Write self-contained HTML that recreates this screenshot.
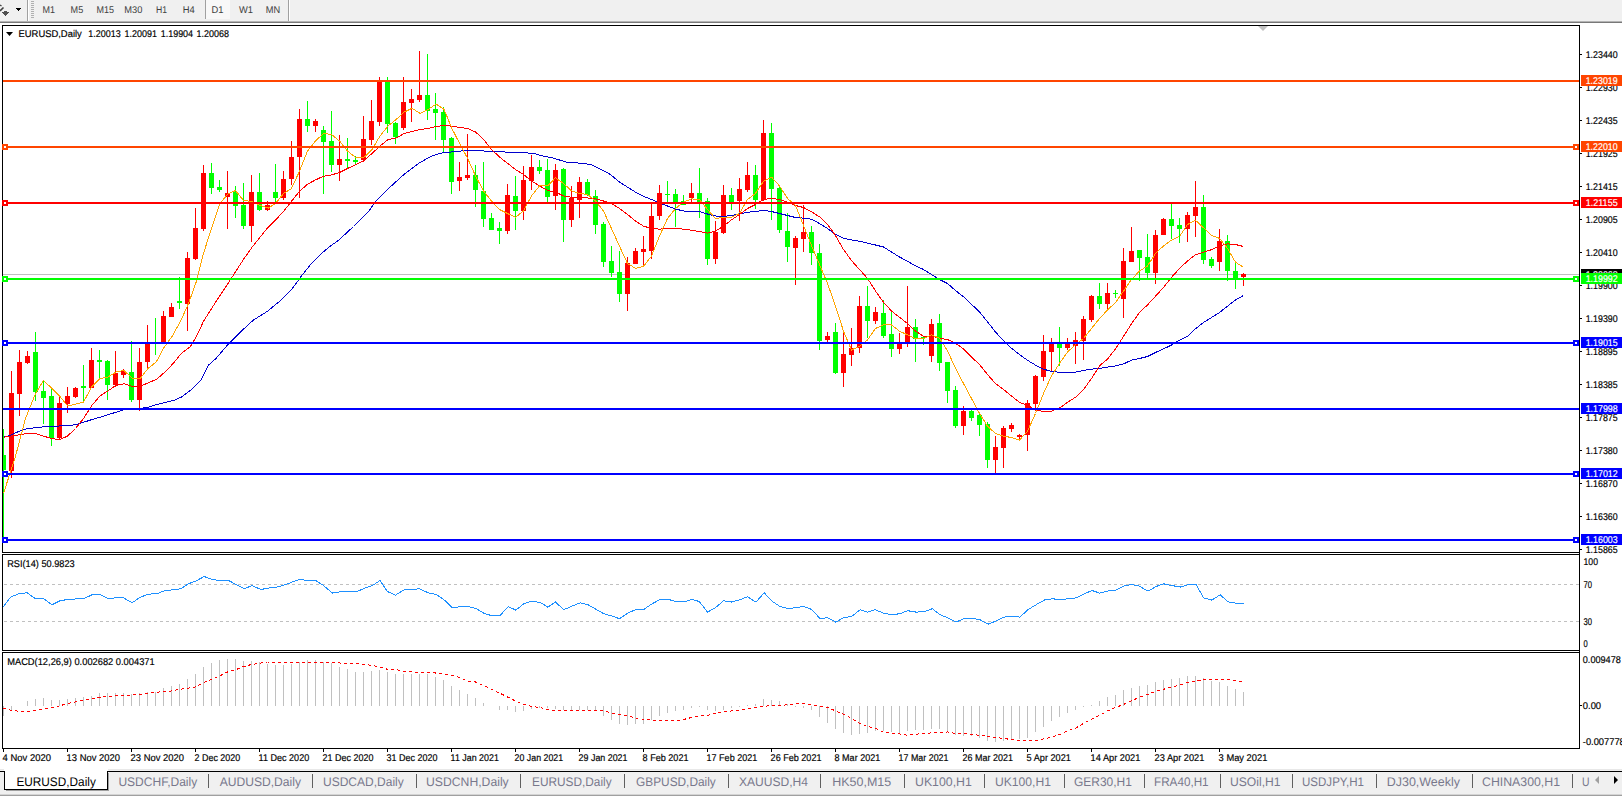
<!DOCTYPE html><html><head><meta charset="utf-8"><title>EURUSD,Daily</title>
<style>html,body{margin:0;padding:0;background:#fff;overflow:hidden}body{width:1622px;height:796px}svg{display:block;position:absolute;left:0;top:0}text{font-family:"Liberation Sans",sans-serif;text-rendering:geometricPrecision}</style></head><body>
<svg width="1622" height="796" viewBox="0 0 1622 796">
<rect x="0" y="0" width="1622" height="796" fill="#fff"/>
<g shape-rendering="crispEdges">
<rect x="0" y="0" width="1622" height="21" fill="#f0f0f0"/>
<rect x="0" y="21" width="1622" height="1" fill="#b4b4b4"/>
<rect x="0" y="22" width="1622" height="1" fill="#787878"/>
<rect x="27" y="0" width="1" height="21" fill="#a0a0a0"/><rect x="28" y="0" width="1" height="21" fill="#fff"/>
<rect x="31" y="1" width="3" height="1" fill="#b0b0b0"/>
<rect x="31" y="3" width="3" height="1" fill="#b0b0b0"/>
<rect x="31" y="5" width="3" height="1" fill="#b0b0b0"/>
<rect x="31" y="7" width="3" height="1" fill="#b0b0b0"/>
<rect x="31" y="9" width="3" height="1" fill="#b0b0b0"/>
<rect x="31" y="11" width="3" height="1" fill="#b0b0b0"/>
<rect x="31" y="13" width="3" height="1" fill="#b0b0b0"/>
<rect x="31" y="15" width="3" height="1" fill="#b0b0b0"/>
<rect x="31" y="17" width="3" height="1" fill="#b0b0b0"/>
<rect x="205" y="0" width="1" height="19" fill="#a0a0a0"/><rect x="206" y="0" width="24" height="19" fill="#f8f8f8"/>
<rect x="288" y="0" width="1" height="21" fill="#a0a0a0"/><rect x="289" y="0" width="1" height="21" fill="#fff"/>
<rect x="16" y="8" width="5" height="1" fill="#000"/><rect x="17" y="9" width="3" height="1" fill="#000"/><rect x="18" y="10" width="1" height="1" fill="#000"/>
<rect x="4" y="11" width="3" height="1" fill="#505050"/><rect x="2" y="12" width="7" height="1" fill="#505050"/><rect x="3" y="13" width="5" height="1" fill="#505050"/><rect x="4" y="14" width="3" height="1" fill="#505050"/><rect x="5" y="15" width="1" height="1" fill="#505050"/>
</g>
<path d="M0 11 L3.5 7.5" stroke="#404040" stroke-width="1.6" fill="none"/><path d="M0 5 L1.5 6" stroke="#404040" stroke-width="1.4" fill="none"/>
<g shape-rendering="crispEdges">
<rect x="2.5" y="25.5" width="1577" height="527" fill="#fff" stroke="#000" stroke-width="1"/>
<rect x="2.5" y="554.5" width="1577" height="96" fill="#fff" stroke="#000" stroke-width="1"/>
<rect x="2.5" y="652.5" width="1577" height="96" fill="#fff" stroke="#000" stroke-width="1"/>
<path d="M1258 26 L1268 26 L1263 31 Z" fill="#c0c0c0" shape-rendering="auto"/>
<rect x="3" y="274" width="1576" height="1" fill="#c0c0c0"/>
<rect x="3" y="429" width="1" height="109" fill="#00ff00"/>
<rect x="3" y="455" width="3" height="15" fill="#00ff00"/>
<rect x="11" y="371" width="1" height="107" fill="#ff0000"/>
<rect x="9" y="393" width="5" height="78" fill="#ff0000"/>
<rect x="19" y="350" width="1" height="66" fill="#ff0000"/>
<rect x="17" y="362" width="5" height="32" fill="#ff0000"/>
<rect x="27" y="351" width="1" height="13" fill="#ff0000"/>
<rect x="25" y="356" width="5" height="7" fill="#ff0000"/>
<rect x="35" y="332" width="1" height="69" fill="#00ff00"/>
<rect x="33" y="352" width="5" height="40" fill="#00ff00"/>
<rect x="43" y="380" width="1" height="44" fill="#00ff00"/>
<rect x="41" y="391" width="5" height="7" fill="#00ff00"/>
<rect x="51" y="388" width="1" height="58" fill="#00ff00"/>
<rect x="49" y="396" width="5" height="42" fill="#00ff00"/>
<rect x="59" y="395" width="1" height="44" fill="#ff0000"/>
<rect x="57" y="403" width="5" height="35" fill="#ff0000"/>
<rect x="67" y="387" width="1" height="26" fill="#ff0000"/>
<rect x="65" y="396" width="5" height="8" fill="#ff0000"/>
<rect x="75" y="387" width="1" height="11" fill="#ff0000"/>
<rect x="73" y="388" width="5" height="9" fill="#ff0000"/>
<rect x="83" y="365" width="1" height="37" fill="#00ff00"/>
<rect x="81" y="386" width="5" height="2" fill="#00ff00"/>
<rect x="91" y="348" width="1" height="40" fill="#ff0000"/>
<rect x="89" y="360" width="5" height="28" fill="#ff0000"/>
<rect x="99" y="350" width="1" height="28" fill="#00ff00"/>
<rect x="97" y="360" width="5" height="2" fill="#00ff00"/>
<rect x="107" y="360" width="1" height="40" fill="#00ff00"/>
<rect x="105" y="361" width="5" height="24" fill="#00ff00"/>
<rect x="115" y="351" width="1" height="36" fill="#ff0000"/>
<rect x="113" y="373" width="5" height="12" fill="#ff0000"/>
<rect x="123" y="369" width="1" height="9" fill="#ff0000"/>
<rect x="121" y="371" width="5" height="4" fill="#ff0000"/>
<rect x="131" y="341" width="1" height="61" fill="#00ff00"/>
<rect x="129" y="372" width="5" height="28" fill="#00ff00"/>
<rect x="139" y="348" width="1" height="63" fill="#ff0000"/>
<rect x="137" y="362" width="5" height="38" fill="#ff0000"/>
<rect x="147" y="325" width="1" height="43" fill="#ff0000"/>
<rect x="145" y="344" width="5" height="18" fill="#ff0000"/>
<rect x="155" y="318" width="1" height="37" fill="#00ff00"/>
<rect x="153" y="342" width="5" height="1" fill="#00ff00"/>
<rect x="163" y="311" width="1" height="31" fill="#ff0000"/>
<rect x="161" y="316" width="5" height="26" fill="#ff0000"/>
<rect x="171" y="303" width="1" height="14" fill="#ff0000"/>
<rect x="169" y="307" width="5" height="10" fill="#ff0000"/>
<rect x="179" y="277" width="1" height="32" fill="#00ff00"/>
<rect x="177" y="301" width="5" height="2" fill="#00ff00"/>
<rect x="187" y="252" width="1" height="79" fill="#ff0000"/>
<rect x="185" y="258" width="5" height="46" fill="#ff0000"/>
<rect x="195" y="208" width="1" height="52" fill="#ff0000"/>
<rect x="193" y="228" width="5" height="31" fill="#ff0000"/>
<rect x="203" y="165" width="1" height="66" fill="#ff0000"/>
<rect x="201" y="173" width="5" height="56" fill="#ff0000"/>
<rect x="211" y="163" width="1" height="31" fill="#00ff00"/>
<rect x="209" y="173" width="5" height="15" fill="#00ff00"/>
<rect x="219" y="180" width="1" height="12" fill="#00ff00"/>
<rect x="217" y="187" width="5" height="3" fill="#00ff00"/>
<rect x="227" y="171" width="1" height="58" fill="#ff0000"/>
<rect x="225" y="193" width="5" height="4" fill="#ff0000"/>
<rect x="235" y="186" width="1" height="32" fill="#00ff00"/>
<rect x="233" y="192" width="5" height="14" fill="#00ff00"/>
<rect x="243" y="183" width="1" height="46" fill="#00ff00"/>
<rect x="241" y="205" width="5" height="21" fill="#00ff00"/>
<rect x="251" y="175" width="1" height="67" fill="#ff0000"/>
<rect x="249" y="192" width="5" height="34" fill="#ff0000"/>
<rect x="259" y="173" width="1" height="38" fill="#00ff00"/>
<rect x="257" y="192" width="5" height="18" fill="#00ff00"/>
<rect x="267" y="201" width="1" height="10" fill="#ff0000"/>
<rect x="265" y="205" width="5" height="5" fill="#ff0000"/>
<rect x="275" y="164" width="1" height="40" fill="#00ff00"/>
<rect x="273" y="192" width="5" height="6" fill="#00ff00"/>
<rect x="283" y="171" width="1" height="29" fill="#ff0000"/>
<rect x="281" y="179" width="5" height="19" fill="#ff0000"/>
<rect x="291" y="141" width="1" height="44" fill="#ff0000"/>
<rect x="289" y="157" width="5" height="22" fill="#ff0000"/>
<rect x="299" y="109" width="1" height="89" fill="#ff0000"/>
<rect x="297" y="119" width="5" height="38" fill="#ff0000"/>
<rect x="307" y="101" width="1" height="31" fill="#00ff00"/>
<rect x="305" y="119" width="5" height="7" fill="#00ff00"/>
<rect x="315" y="119" width="1" height="13" fill="#ff0000"/>
<rect x="313" y="121" width="5" height="5" fill="#ff0000"/>
<rect x="323" y="126" width="1" height="68" fill="#00ff00"/>
<rect x="321" y="130" width="5" height="12" fill="#00ff00"/>
<rect x="331" y="111" width="1" height="61" fill="#00ff00"/>
<rect x="329" y="141" width="5" height="24" fill="#00ff00"/>
<rect x="339" y="135" width="1" height="46" fill="#ff0000"/>
<rect x="337" y="159" width="5" height="6" fill="#ff0000"/>
<rect x="347" y="138" width="1" height="30" fill="#00ff00"/>
<rect x="345" y="159" width="5" height="2" fill="#00ff00"/>
<rect x="355" y="156" width="1" height="9" fill="#00ff00"/>
<rect x="353" y="160" width="5" height="2" fill="#00ff00"/>
<rect x="363" y="116" width="1" height="46" fill="#ff0000"/>
<rect x="361" y="139" width="5" height="21" fill="#ff0000"/>
<rect x="371" y="100" width="1" height="45" fill="#ff0000"/>
<rect x="369" y="121" width="5" height="19" fill="#ff0000"/>
<rect x="379" y="77" width="1" height="49" fill="#ff0000"/>
<rect x="377" y="82" width="5" height="40" fill="#ff0000"/>
<rect x="387" y="77" width="1" height="56" fill="#00ff00"/>
<rect x="385" y="82" width="5" height="42" fill="#00ff00"/>
<rect x="395" y="122" width="1" height="22" fill="#00ff00"/>
<rect x="393" y="123" width="5" height="14" fill="#00ff00"/>
<rect x="403" y="77" width="1" height="53" fill="#ff0000"/>
<rect x="401" y="102" width="5" height="26" fill="#ff0000"/>
<rect x="411" y="89" width="1" height="33" fill="#ff0000"/>
<rect x="409" y="99" width="5" height="4" fill="#ff0000"/>
<rect x="419" y="51" width="1" height="51" fill="#ff0000"/>
<rect x="417" y="95" width="5" height="5" fill="#ff0000"/>
<rect x="427" y="54" width="1" height="66" fill="#00ff00"/>
<rect x="425" y="95" width="5" height="16" fill="#00ff00"/>
<rect x="435" y="93" width="1" height="47" fill="#00ff00"/>
<rect x="433" y="109" width="5" height="4" fill="#00ff00"/>
<rect x="443" y="107" width="1" height="46" fill="#00ff00"/>
<rect x="441" y="112" width="5" height="28" fill="#00ff00"/>
<rect x="451" y="137" width="1" height="57" fill="#00ff00"/>
<rect x="449" y="138" width="5" height="44" fill="#00ff00"/>
<rect x="459" y="162" width="1" height="29" fill="#ff0000"/>
<rect x="457" y="177" width="5" height="4" fill="#ff0000"/>
<rect x="467" y="134" width="1" height="46" fill="#ff0000"/>
<rect x="465" y="175" width="5" height="3" fill="#ff0000"/>
<rect x="475" y="165" width="1" height="42" fill="#00ff00"/>
<rect x="473" y="175" width="5" height="15" fill="#00ff00"/>
<rect x="483" y="162" width="1" height="65" fill="#00ff00"/>
<rect x="481" y="191" width="5" height="28" fill="#00ff00"/>
<rect x="491" y="213" width="1" height="17" fill="#00ff00"/>
<rect x="489" y="218" width="5" height="12" fill="#00ff00"/>
<rect x="499" y="222" width="1" height="22" fill="#00ff00"/>
<rect x="497" y="228" width="5" height="3" fill="#00ff00"/>
<rect x="507" y="184" width="1" height="50" fill="#ff0000"/>
<rect x="505" y="195" width="5" height="36" fill="#ff0000"/>
<rect x="515" y="176" width="1" height="54" fill="#00ff00"/>
<rect x="513" y="196" width="5" height="15" fill="#00ff00"/>
<rect x="523" y="166" width="1" height="54" fill="#ff0000"/>
<rect x="521" y="180" width="5" height="31" fill="#ff0000"/>
<rect x="531" y="155" width="1" height="35" fill="#ff0000"/>
<rect x="529" y="167" width="5" height="14" fill="#ff0000"/>
<rect x="539" y="160" width="1" height="14" fill="#00ff00"/>
<rect x="537" y="167" width="5" height="4" fill="#00ff00"/>
<rect x="547" y="159" width="1" height="43" fill="#00ff00"/>
<rect x="545" y="170" width="5" height="27" fill="#00ff00"/>
<rect x="555" y="164" width="1" height="46" fill="#ff0000"/>
<rect x="553" y="170" width="5" height="26" fill="#ff0000"/>
<rect x="563" y="168" width="1" height="74" fill="#00ff00"/>
<rect x="561" y="169" width="5" height="51" fill="#00ff00"/>
<rect x="571" y="186" width="1" height="41" fill="#ff0000"/>
<rect x="569" y="198" width="5" height="22" fill="#ff0000"/>
<rect x="579" y="177" width="1" height="41" fill="#ff0000"/>
<rect x="577" y="182" width="5" height="18" fill="#ff0000"/>
<rect x="587" y="179" width="1" height="17" fill="#00ff00"/>
<rect x="585" y="182" width="5" height="13" fill="#00ff00"/>
<rect x="595" y="190" width="1" height="44" fill="#00ff00"/>
<rect x="593" y="196" width="5" height="29" fill="#00ff00"/>
<rect x="603" y="222" width="1" height="45" fill="#00ff00"/>
<rect x="601" y="224" width="5" height="38" fill="#00ff00"/>
<rect x="611" y="246" width="1" height="31" fill="#00ff00"/>
<rect x="609" y="261" width="5" height="12" fill="#00ff00"/>
<rect x="619" y="251" width="1" height="51" fill="#00ff00"/>
<rect x="617" y="272" width="5" height="22" fill="#00ff00"/>
<rect x="627" y="257" width="1" height="54" fill="#ff0000"/>
<rect x="625" y="263" width="5" height="31" fill="#ff0000"/>
<rect x="635" y="248" width="1" height="16" fill="#ff0000"/>
<rect x="633" y="251" width="5" height="13" fill="#ff0000"/>
<rect x="643" y="236" width="1" height="29" fill="#ff0000"/>
<rect x="641" y="249" width="5" height="3" fill="#ff0000"/>
<rect x="651" y="204" width="1" height="55" fill="#ff0000"/>
<rect x="649" y="216" width="5" height="35" fill="#ff0000"/>
<rect x="659" y="185" width="1" height="35" fill="#ff0000"/>
<rect x="657" y="193" width="5" height="23" fill="#ff0000"/>
<rect x="667" y="181" width="1" height="21" fill="#00ff00"/>
<rect x="665" y="194" width="5" height="1" fill="#00ff00"/>
<rect x="675" y="189" width="1" height="38" fill="#00ff00"/>
<rect x="673" y="194" width="5" height="9" fill="#00ff00"/>
<rect x="683" y="195" width="1" height="10" fill="#00ff00"/>
<rect x="681" y="201" width="5" height="4" fill="#00ff00"/>
<rect x="691" y="183" width="1" height="19" fill="#ff0000"/>
<rect x="689" y="193" width="5" height="5" fill="#ff0000"/>
<rect x="699" y="168" width="1" height="50" fill="#00ff00"/>
<rect x="697" y="193" width="5" height="9" fill="#00ff00"/>
<rect x="707" y="198" width="1" height="67" fill="#00ff00"/>
<rect x="705" y="201" width="5" height="58" fill="#00ff00"/>
<rect x="715" y="221" width="1" height="43" fill="#ff0000"/>
<rect x="713" y="232" width="5" height="27" fill="#ff0000"/>
<rect x="723" y="185" width="1" height="49" fill="#ff0000"/>
<rect x="721" y="195" width="5" height="38" fill="#ff0000"/>
<rect x="731" y="188" width="1" height="22" fill="#00ff00"/>
<rect x="729" y="195" width="5" height="8" fill="#00ff00"/>
<rect x="739" y="178" width="1" height="43" fill="#ff0000"/>
<rect x="737" y="189" width="5" height="12" fill="#ff0000"/>
<rect x="747" y="162" width="1" height="30" fill="#ff0000"/>
<rect x="745" y="175" width="5" height="15" fill="#ff0000"/>
<rect x="755" y="165" width="1" height="44" fill="#00ff00"/>
<rect x="753" y="175" width="5" height="25" fill="#00ff00"/>
<rect x="763" y="120" width="1" height="81" fill="#ff0000"/>
<rect x="761" y="133" width="5" height="67" fill="#ff0000"/>
<rect x="771" y="123" width="1" height="97" fill="#00ff00"/>
<rect x="769" y="133" width="5" height="56" fill="#00ff00"/>
<rect x="779" y="187" width="1" height="46" fill="#00ff00"/>
<rect x="777" y="188" width="5" height="42" fill="#00ff00"/>
<rect x="787" y="213" width="1" height="49" fill="#00ff00"/>
<rect x="785" y="231" width="5" height="16" fill="#00ff00"/>
<rect x="795" y="236" width="1" height="49" fill="#ff0000"/>
<rect x="793" y="238" width="5" height="10" fill="#ff0000"/>
<rect x="803" y="205" width="1" height="47" fill="#ff0000"/>
<rect x="801" y="232" width="5" height="7" fill="#ff0000"/>
<rect x="811" y="226" width="1" height="39" fill="#00ff00"/>
<rect x="809" y="232" width="5" height="21" fill="#00ff00"/>
<rect x="819" y="244" width="1" height="106" fill="#00ff00"/>
<rect x="817" y="253" width="5" height="88" fill="#00ff00"/>
<rect x="827" y="332" width="1" height="10" fill="#ff0000"/>
<rect x="825" y="336" width="5" height="4" fill="#ff0000"/>
<rect x="835" y="323" width="1" height="51" fill="#00ff00"/>
<rect x="833" y="332" width="5" height="41" fill="#00ff00"/>
<rect x="843" y="333" width="1" height="54" fill="#ff0000"/>
<rect x="841" y="354" width="5" height="19" fill="#ff0000"/>
<rect x="851" y="328" width="1" height="38" fill="#ff0000"/>
<rect x="849" y="348" width="5" height="7" fill="#ff0000"/>
<rect x="859" y="296" width="1" height="57" fill="#ff0000"/>
<rect x="857" y="306" width="5" height="42" fill="#ff0000"/>
<rect x="867" y="286" width="1" height="52" fill="#00ff00"/>
<rect x="865" y="306" width="5" height="15" fill="#00ff00"/>
<rect x="875" y="307" width="1" height="17" fill="#ff0000"/>
<rect x="873" y="312" width="5" height="9" fill="#ff0000"/>
<rect x="883" y="300" width="1" height="38" fill="#00ff00"/>
<rect x="881" y="313" width="5" height="23" fill="#00ff00"/>
<rect x="891" y="311" width="1" height="46" fill="#00ff00"/>
<rect x="889" y="334" width="5" height="15" fill="#00ff00"/>
<rect x="899" y="333" width="1" height="21" fill="#ff0000"/>
<rect x="897" y="343" width="5" height="6" fill="#ff0000"/>
<rect x="907" y="286" width="1" height="61" fill="#ff0000"/>
<rect x="905" y="327" width="5" height="16" fill="#ff0000"/>
<rect x="915" y="319" width="1" height="43" fill="#00ff00"/>
<rect x="913" y="327" width="5" height="12" fill="#00ff00"/>
<rect x="923" y="336" width="1" height="9" fill="#00ff00"/>
<rect x="921" y="337" width="5" height="1" fill="#00ff00"/>
<rect x="931" y="319" width="1" height="43" fill="#ff0000"/>
<rect x="929" y="324" width="5" height="32" fill="#ff0000"/>
<rect x="939" y="314" width="1" height="57" fill="#00ff00"/>
<rect x="937" y="323" width="5" height="40" fill="#00ff00"/>
<rect x="947" y="362" width="1" height="41" fill="#00ff00"/>
<rect x="945" y="362" width="5" height="29" fill="#00ff00"/>
<rect x="955" y="386" width="1" height="42" fill="#00ff00"/>
<rect x="953" y="390" width="5" height="36" fill="#00ff00"/>
<rect x="963" y="406" width="1" height="29" fill="#ff0000"/>
<rect x="961" y="411" width="5" height="15" fill="#ff0000"/>
<rect x="971" y="410" width="1" height="11" fill="#00ff00"/>
<rect x="969" y="411" width="5" height="7" fill="#00ff00"/>
<rect x="979" y="413" width="1" height="23" fill="#00ff00"/>
<rect x="977" y="415" width="5" height="10" fill="#00ff00"/>
<rect x="987" y="422" width="1" height="46" fill="#00ff00"/>
<rect x="985" y="424" width="5" height="36" fill="#00ff00"/>
<rect x="995" y="436" width="1" height="37" fill="#ff0000"/>
<rect x="993" y="447" width="5" height="13" fill="#ff0000"/>
<rect x="1003" y="426" width="1" height="42" fill="#ff0000"/>
<rect x="1001" y="428" width="5" height="20" fill="#ff0000"/>
<rect x="1011" y="423" width="1" height="9" fill="#ff0000"/>
<rect x="1009" y="425" width="5" height="4" fill="#ff0000"/>
<rect x="1019" y="434" width="1" height="6" fill="#ff0000"/>
<rect x="1017" y="435" width="5" height="2" fill="#ff0000"/>
<rect x="1027" y="400" width="1" height="51" fill="#ff0000"/>
<rect x="1025" y="403" width="5" height="32" fill="#ff0000"/>
<rect x="1035" y="375" width="1" height="36" fill="#ff0000"/>
<rect x="1033" y="376" width="5" height="28" fill="#ff0000"/>
<rect x="1043" y="335" width="1" height="46" fill="#ff0000"/>
<rect x="1041" y="351" width="5" height="26" fill="#ff0000"/>
<rect x="1051" y="338" width="1" height="33" fill="#ff0000"/>
<rect x="1049" y="343" width="5" height="9" fill="#ff0000"/>
<rect x="1059" y="327" width="1" height="39" fill="#00ff00"/>
<rect x="1057" y="344" width="5" height="4" fill="#00ff00"/>
<rect x="1067" y="338" width="1" height="12" fill="#ff0000"/>
<rect x="1065" y="343" width="5" height="5" fill="#ff0000"/>
<rect x="1075" y="332" width="1" height="32" fill="#ff0000"/>
<rect x="1073" y="340" width="5" height="6" fill="#ff0000"/>
<rect x="1083" y="316" width="1" height="44" fill="#ff0000"/>
<rect x="1081" y="319" width="5" height="22" fill="#ff0000"/>
<rect x="1091" y="295" width="1" height="27" fill="#ff0000"/>
<rect x="1089" y="296" width="5" height="24" fill="#ff0000"/>
<rect x="1099" y="283" width="1" height="26" fill="#00ff00"/>
<rect x="1097" y="296" width="5" height="8" fill="#00ff00"/>
<rect x="1107" y="283" width="1" height="27" fill="#ff0000"/>
<rect x="1105" y="293" width="5" height="11" fill="#ff0000"/>
<rect x="1115" y="290" width="1" height="8" fill="#00ff00"/>
<rect x="1113" y="293" width="5" height="1" fill="#00ff00"/>
<rect x="1123" y="248" width="1" height="70" fill="#ff0000"/>
<rect x="1121" y="261" width="5" height="38" fill="#ff0000"/>
<rect x="1131" y="227" width="1" height="35" fill="#ff0000"/>
<rect x="1129" y="251" width="5" height="11" fill="#ff0000"/>
<rect x="1139" y="250" width="1" height="31" fill="#00ff00"/>
<rect x="1137" y="250" width="5" height="8" fill="#00ff00"/>
<rect x="1147" y="234" width="1" height="44" fill="#00ff00"/>
<rect x="1145" y="257" width="5" height="16" fill="#00ff00"/>
<rect x="1155" y="230" width="1" height="54" fill="#ff0000"/>
<rect x="1153" y="235" width="5" height="38" fill="#ff0000"/>
<rect x="1163" y="218" width="1" height="17" fill="#ff0000"/>
<rect x="1161" y="219" width="5" height="16" fill="#ff0000"/>
<rect x="1171" y="204" width="1" height="35" fill="#00ff00"/>
<rect x="1169" y="219" width="5" height="7" fill="#00ff00"/>
<rect x="1179" y="218" width="1" height="25" fill="#00ff00"/>
<rect x="1177" y="225" width="5" height="4" fill="#00ff00"/>
<rect x="1187" y="212" width="1" height="30" fill="#ff0000"/>
<rect x="1185" y="215" width="5" height="14" fill="#ff0000"/>
<rect x="1195" y="181" width="1" height="56" fill="#ff0000"/>
<rect x="1193" y="207" width="5" height="9" fill="#ff0000"/>
<rect x="1203" y="195" width="1" height="69" fill="#00ff00"/>
<rect x="1201" y="207" width="5" height="53" fill="#00ff00"/>
<rect x="1211" y="257" width="1" height="11" fill="#00ff00"/>
<rect x="1209" y="259" width="5" height="7" fill="#00ff00"/>
<rect x="1219" y="229" width="1" height="42" fill="#ff0000"/>
<rect x="1217" y="241" width="5" height="21" fill="#ff0000"/>
<rect x="1227" y="235" width="1" height="46" fill="#00ff00"/>
<rect x="1225" y="241" width="5" height="30" fill="#00ff00"/>
<rect x="1235" y="263" width="1" height="26" fill="#00ff00"/>
<rect x="1233" y="271" width="5" height="8" fill="#00ff00"/>
<rect x="1243" y="273" width="1" height="13" fill="#ff0000"/>
<rect x="1241" y="274" width="5" height="3" fill="#ff0000"/>
</g>
<g shape-rendering="crispEdges">
<polyline points="3.5,437.3 11.5,434.8 19.5,431.1 27.5,428.5 35.5,427.8 43.5,426.8 51.5,426.5 59.5,426.0 67.5,425.5 75.5,424.8 83.5,422.3 91.5,419.7 100.0,417.2 108.0,414.7 116.1,412.2 124.1,409.7 132.2,408.5 140.2,408.5 148.2,407.2 156.3,404.7 163.5,402.9 173.5,400.5 181.5,397.1 191.5,389.5 200.5,380.8 208.1,365.5 215.9,358.5 228.5,343.9 241.1,331.4 253.5,320.0 267.5,311.3 281.3,299.9 291.3,289.9 301.4,276.1 311.4,263.5 321.5,253.5 330.5,245.9 338.3,240.5 353.5,226.5 368.5,211.4 376.0,201.3 388.5,188.5 403.5,174.9 418.5,163.5 431.3,156.1 441.4,153.1 451.5,152.0 465.5,150.5 490.5,151.2 513.5,152.5 533.5,153.2 541.0,155.5 553.5,158.2 566.1,162.0 581.2,163.3 591.3,164.5 601.3,169.5 610.5,174.5 619.5,182.1 627.5,187.1 635.5,192.1 643.5,196.4 651.5,199.5 659.5,202.9 667.5,206.0 675.5,209.0 683.5,211.0 691.5,211.5 699.5,211.7 707.5,214.0 715.5,216.0 723.5,216.5 731.5,215.5 739.5,214.0 747.5,212.2 755.5,211.5 763.5,210.5 771.5,211.5 779.5,213.5 787.5,215.5 795.5,217.5 803.5,218.1 811.5,219.3 819.5,223.5 827.5,228.5 835.5,234.4 843.5,238.2 851.5,239.9 859.5,241.2 867.5,243.2 875.5,245.0 883.5,247.0 891.5,252.0 899.5,257.0 907.5,261.3 915.5,265.8 923.5,269.5 931.5,274.5 939.5,279.5 947.5,283.5 955.5,290.5 963.5,296.8 971.5,304.3 979.5,311.9 987.5,321.9 995.5,332.0 1003.5,340.8 1011.5,348.3 1019.5,354.5 1027.5,360.3 1035.5,365.1 1043.5,369.1 1051.5,371.5 1059.5,372.2 1067.5,372.9 1075.5,372.2 1083.5,370.4 1091.5,369.1 1099.5,368.4 1107.5,367.1 1115.5,365.9 1123.5,363.9 1131.5,360.2 1139.5,358.5 1147.5,356.5 1155.5,352.5 1163.5,348.9 1171.5,345.1 1179.5,340.1 1187.5,336.4 1195.5,328.8 1203.5,322.5 1211.5,317.5 1219.5,312.5 1227.5,306.2 1235.5,299.9 1243.5,295.5" fill="none" stroke="#0000cd" stroke-width="1" />
<polyline points="3.5,437.3 11.5,436.1 19.5,434.8 27.5,433.5 35.5,433.5 43.5,436.1 51.5,438.5 59.5,439.8 67.5,436.1 75.5,428.5 83.5,418.5 91.5,405.9 100.0,395.9 108.0,390.9 116.1,385.3 124.1,383.8 132.2,386.3 140.2,386.3 148.2,382.8 156.3,379.5 163.5,373.3 173.5,363.2 181.5,353.2 190.5,346.5 196.5,336.5 203.5,321.3 211.5,308.7 219.5,296.2 228.0,283.5 236.0,271.0 244.1,258.5 252.1,247.2 260.1,237.1 268.2,227.1 275.5,220.1 283.5,211.4 291.5,201.3 299.5,191.3 307.5,184.2 315.5,179.9 323.5,176.2 331.5,174.9 339.5,172.5 347.5,168.5 355.5,164.9 364.0,160.5 372.0,153.5 380.0,146.0 388.1,139.5 396.1,138.0 404.2,133.5 412.0,131.5 420.0,129.5 428.0,128.5 436.1,126.5 444.1,125.5 451.5,126.1 459.5,127.5 467.5,128.5 475.5,131.9 483.5,139.4 491.5,149.4 499.5,157.0 507.5,163.3 515.5,169.5 523.5,174.5 531.5,180.9 539.5,185.9 547.5,190.4 555.5,192.2 563.5,195.9 571.5,197.2 579.5,197.9 587.5,197.9 595.5,198.9 603.5,201.0 611.5,203.5 619.5,208.5 627.5,214.5 635.5,221.0 643.5,226.1 651.5,228.5 659.5,229.1 667.5,228.5 675.5,228.5 683.5,229.1 691.5,230.3 699.5,231.5 707.5,233.1 715.5,231.1 723.5,226.1 731.5,219.8 739.5,214.5 747.5,208.5 755.5,204.5 763.5,199.5 771.5,198.5 779.5,199.5 787.5,202.2 795.5,205.5 803.5,207.5 811.5,211.8 819.5,216.8 827.5,224.4 835.5,235.5 843.5,249.5 851.5,260.5 859.5,269.5 867.5,278.4 875.5,291.0 883.5,302.3 891.5,311.0 899.5,317.3 907.5,323.5 915.5,331.2 923.5,336.2 931.5,336.2 939.5,338.2 947.5,339.5 955.5,343.3 963.5,348.8 971.5,357.1 979.5,364.5 987.5,374.5 995.5,383.5 1003.5,389.5 1011.5,396.0 1019.5,402.3 1027.5,405.3 1035.5,409.8 1043.5,411.5 1051.5,411.1 1059.5,408.1 1067.5,402.3 1075.5,397.3 1083.5,389.5 1091.5,378.5 1099.5,365.9 1107.5,359.0 1115.5,348.9 1123.5,336.4 1131.5,323.8 1139.5,312.5 1147.5,304.9 1155.5,296.2 1163.5,287.4 1171.5,277.3 1179.5,268.5 1187.5,261.0 1195.5,254.7 1203.5,252.2 1211.5,249.7 1219.5,245.9 1227.5,243.9 1235.5,244.5 1243.5,246.5" fill="none" stroke="#ff0000" stroke-width="1" />
<polyline points="3.5,493.5 15.5,456.2 25.5,418.5 35.5,393.5 43.5,380.5 52.0,388.5 60.5,397.1 67.5,405.9 75.5,404.2 83.5,402.2 91.5,387.1 100.0,378.5 108.0,377.0 116.1,372.0 124.1,370.5 132.2,378.3 140.2,378.5 148.2,368.2 156.3,362.0 163.5,348.1 172.0,336.5 180.5,321.3 188.5,303.5 196.5,281.1 203.5,253.5 211.5,228.3 219.5,204.5 227.2,194.5 235.5,190.5 243.5,200.5 252.1,201.5 260.1,205.5 268.2,208.2 275.5,203.5 283.5,193.5 291.5,188.5 299.5,171.2 307.5,151.0 315.5,141.0 323.5,133.5 331.5,134.5 339.5,141.0 347.5,151.0 355.5,157.3 364.0,157.3 372.0,149.5 380.0,136.0 388.1,125.9 396.1,119.5 404.2,112.1 412.0,108.3 420.0,113.4 428.0,109.5 436.1,104.1 444.1,109.5 451.9,128.5 459.5,143.2 467.5,158.2 475.5,175.8 483.5,190.9 491.5,201.0 499.5,209.5 507.5,213.5 515.5,217.3 523.5,211.0 531.5,195.9 539.5,185.9 547.5,185.9 555.5,177.8 563.5,183.4 571.5,190.9 579.5,193.5 587.5,194.5 595.5,201.0 603.5,211.0 611.5,228.5 619.5,246.2 627.5,263.5 635.5,268.3 643.5,266.3 651.5,256.2 659.5,236.1 667.5,218.5 675.5,208.5 683.5,202.2 691.5,198.9 699.5,199.5 707.5,209.5 715.5,218.5 723.5,217.3 731.5,217.3 739.5,213.5 747.5,199.5 755.5,193.4 763.5,181.3 771.5,177.1 779.5,185.9 787.5,198.4 795.5,205.5 803.5,225.5 811.5,245.5 819.5,264.5 827.5,283.5 835.5,306.0 843.5,331.2 851.5,350.0 859.5,346.2 867.5,339.9 875.5,328.5 883.5,324.9 891.5,324.9 899.5,331.2 907.5,334.9 915.5,338.7 923.5,338.7 931.5,334.9 939.5,338.2 947.5,350.8 955.5,368.4 963.5,383.5 971.5,398.5 979.5,413.5 987.5,426.2 995.5,433.5 1003.5,436.2 1011.5,437.5 1019.5,440.0 1027.5,431.2 1035.5,413.5 1043.5,393.5 1051.5,375.9 1059.5,363.4 1067.5,352.1 1075.5,344.5 1083.5,338.5 1091.5,328.5 1099.5,318.5 1107.5,310.0 1115.5,302.5 1123.5,291.1 1131.5,279.5 1139.5,271.0 1147.5,266.0 1155.5,253.5 1163.5,245.9 1171.5,240.1 1179.5,236.5 1187.5,224.5 1195.5,220.3 1203.5,227.8 1211.5,235.3 1219.5,238.4 1227.5,248.4 1235.5,262.2 1243.5,267.3" fill="none" stroke="#ffa500" stroke-width="1" />
<rect x="3" y="80" width="1576" height="2" fill="#ff4500"/>
<rect x="3" y="146" width="1576" height="2" fill="#ff4500"/>
<rect x="3" y="202" width="1576" height="2" fill="#ff0000"/>
<rect x="3" y="278" width="1576" height="2" fill="#00ff00"/>
<rect x="3" y="342" width="1576" height="2" fill="#0000ff"/>
<rect x="3" y="408" width="1576" height="2" fill="#0000ff"/>
<rect x="3" y="473" width="1576" height="2" fill="#0000ff"/>
<rect x="3" y="539" width="1576" height="2" fill="#0000ff"/>
<rect x="2" y="144" width="6" height="6" fill="#ff4500"/><rect x="4" y="146" width="2" height="2" fill="#fff"/>
<rect x="1573" y="144" width="6" height="6" fill="#ff4500"/><rect x="1575" y="146" width="2" height="2" fill="#fff"/>
<rect x="2" y="200" width="6" height="6" fill="#ff0000"/><rect x="4" y="202" width="2" height="2" fill="#fff"/>
<rect x="1573" y="200" width="6" height="6" fill="#ff0000"/><rect x="1575" y="202" width="2" height="2" fill="#fff"/>
<rect x="2" y="276" width="6" height="6" fill="#00ff00"/><rect x="4" y="278" width="2" height="2" fill="#fff"/>
<rect x="1573" y="276" width="6" height="6" fill="#00ff00"/><rect x="1575" y="278" width="2" height="2" fill="#fff"/>
<rect x="2" y="340" width="6" height="6" fill="#0000ff"/><rect x="4" y="342" width="2" height="2" fill="#fff"/>
<rect x="1573" y="340" width="6" height="6" fill="#0000ff"/><rect x="1575" y="342" width="2" height="2" fill="#fff"/>
<rect x="2" y="471" width="6" height="6" fill="#0000ff"/><rect x="4" y="473" width="2" height="2" fill="#fff"/>
<rect x="1573" y="471" width="6" height="6" fill="#0000ff"/><rect x="1575" y="473" width="2" height="2" fill="#fff"/>
<rect x="2" y="537" width="6" height="6" fill="#0000ff"/><rect x="4" y="539" width="2" height="2" fill="#fff"/>
<rect x="1573" y="537" width="6" height="6" fill="#0000ff"/><rect x="1575" y="539" width="2" height="2" fill="#fff"/>
</g>
<g shape-rendering="crispEdges">
<rect x="1579" y="25" width="1" height="724" fill="#000"/>
<rect x="1580" y="54" width="2" height="1" fill="#000"/>
<rect x="1580" y="87" width="2" height="1" fill="#000"/>
<rect x="1580" y="120" width="2" height="1" fill="#000"/>
<rect x="1580" y="153" width="2" height="1" fill="#000"/>
<rect x="1580" y="186" width="2" height="1" fill="#000"/>
<rect x="1580" y="219" width="2" height="1" fill="#000"/>
<rect x="1580" y="252" width="2" height="1" fill="#000"/>
<rect x="1580" y="285" width="2" height="1" fill="#000"/>
<rect x="1580" y="318" width="2" height="1" fill="#000"/>
<rect x="1580" y="351" width="2" height="1" fill="#000"/>
<rect x="1580" y="384" width="2" height="1" fill="#000"/>
<rect x="1580" y="417" width="2" height="1" fill="#000"/>
<rect x="1580" y="450" width="2" height="1" fill="#000"/>
<rect x="1580" y="483" width="2" height="1" fill="#000"/>
<rect x="1580" y="516" width="2" height="1" fill="#000"/>
<rect x="1580" y="549" width="2" height="1" fill="#000"/>
</g>
<text x="1585.7" y="57.7" font-size="9.8" fill="#000" stroke="#000" stroke-width="0.18" textLength="32" lengthAdjust="spacingAndGlyphs" >1.23440</text>
<text x="1585.7" y="90.7" font-size="9.8" fill="#000" stroke="#000" stroke-width="0.18" textLength="32" lengthAdjust="spacingAndGlyphs" >1.22930</text>
<text x="1585.7" y="123.7" font-size="9.8" fill="#000" stroke="#000" stroke-width="0.18" textLength="32" lengthAdjust="spacingAndGlyphs" >1.22435</text>
<text x="1585.7" y="156.7" font-size="9.8" fill="#000" stroke="#000" stroke-width="0.18" textLength="32" lengthAdjust="spacingAndGlyphs" >1.21925</text>
<text x="1585.7" y="189.7" font-size="9.8" fill="#000" stroke="#000" stroke-width="0.18" textLength="32" lengthAdjust="spacingAndGlyphs" >1.21415</text>
<text x="1585.7" y="222.7" font-size="9.8" fill="#000" stroke="#000" stroke-width="0.18" textLength="32" lengthAdjust="spacingAndGlyphs" >1.20905</text>
<text x="1585.7" y="255.8" font-size="9.8" fill="#000" stroke="#000" stroke-width="0.18" textLength="32" lengthAdjust="spacingAndGlyphs" >1.20410</text>
<text x="1585.7" y="288.8" font-size="9.8" fill="#000" stroke="#000" stroke-width="0.18" textLength="32" lengthAdjust="spacingAndGlyphs" >1.19900</text>
<text x="1585.7" y="321.8" font-size="9.8" fill="#000" stroke="#000" stroke-width="0.18" textLength="32" lengthAdjust="spacingAndGlyphs" >1.19390</text>
<text x="1585.7" y="354.8" font-size="9.8" fill="#000" stroke="#000" stroke-width="0.18" textLength="32" lengthAdjust="spacingAndGlyphs" >1.18895</text>
<text x="1585.7" y="387.8" font-size="9.8" fill="#000" stroke="#000" stroke-width="0.18" textLength="32" lengthAdjust="spacingAndGlyphs" >1.18385</text>
<text x="1585.7" y="420.8" font-size="9.8" fill="#000" stroke="#000" stroke-width="0.18" textLength="32" lengthAdjust="spacingAndGlyphs" >1.17875</text>
<text x="1585.7" y="453.8" font-size="9.8" fill="#000" stroke="#000" stroke-width="0.18" textLength="32" lengthAdjust="spacingAndGlyphs" >1.17380</text>
<text x="1585.7" y="486.8" font-size="9.8" fill="#000" stroke="#000" stroke-width="0.18" textLength="32" lengthAdjust="spacingAndGlyphs" >1.16870</text>
<text x="1585.7" y="519.8" font-size="9.8" fill="#000" stroke="#000" stroke-width="0.18" textLength="32" lengthAdjust="spacingAndGlyphs" >1.16360</text>
<text x="1585.7" y="552.9" font-size="9.8" fill="#000" stroke="#000" stroke-width="0.18" textLength="32" lengthAdjust="spacingAndGlyphs" >1.15865</text>
<rect x="1581" y="269" width="41" height="11" fill="#000" shape-rendering="crispEdges"/>
<text x="1585.7" y="277.5" font-size="9.8" fill="#fff" stroke="#fff" stroke-width="0.18" textLength="32" lengthAdjust="spacingAndGlyphs" >1.20068</text>
<rect x="1581" y="75" width="41" height="11" fill="#ff4500" shape-rendering="crispEdges"/>
<text x="1585.7" y="84.3" font-size="9.8" fill="#fff" stroke="#fff" stroke-width="0.18" textLength="32" lengthAdjust="spacingAndGlyphs" >1.23019</text>
<rect x="1581" y="141" width="41" height="11" fill="#ff4500" shape-rendering="crispEdges"/>
<text x="1585.7" y="150.3" font-size="9.8" fill="#fff" stroke="#fff" stroke-width="0.18" textLength="32" lengthAdjust="spacingAndGlyphs" >1.22010</text>
<rect x="1581" y="197" width="41" height="11" fill="#ff0000" shape-rendering="crispEdges"/>
<text x="1585.7" y="206.3" font-size="9.8" fill="#fff" stroke="#fff" stroke-width="0.18" textLength="32" lengthAdjust="spacingAndGlyphs" >1.21155</text>
<rect x="1581" y="273" width="41" height="11" fill="#00ff00" shape-rendering="crispEdges"/>
<text x="1585.7" y="282.3" font-size="9.8" fill="#fff" stroke="#fff" stroke-width="0.18" textLength="32" lengthAdjust="spacingAndGlyphs" >1.19992</text>
<rect x="1581" y="337" width="41" height="11" fill="#0000ff" shape-rendering="crispEdges"/>
<text x="1585.7" y="346.3" font-size="9.8" fill="#fff" stroke="#fff" stroke-width="0.18" textLength="32" lengthAdjust="spacingAndGlyphs" >1.19015</text>
<rect x="1581" y="403" width="41" height="11" fill="#0000ff" shape-rendering="crispEdges"/>
<text x="1585.7" y="412.3" font-size="9.8" fill="#fff" stroke="#fff" stroke-width="0.18" textLength="32" lengthAdjust="spacingAndGlyphs" >1.17998</text>
<rect x="1581" y="468" width="41" height="11" fill="#0000ff" shape-rendering="crispEdges"/>
<text x="1585.7" y="477.3" font-size="9.8" fill="#fff" stroke="#fff" stroke-width="0.18" textLength="32" lengthAdjust="spacingAndGlyphs" >1.17012</text>
<rect x="1581" y="534" width="41" height="11" fill="#0000ff" shape-rendering="crispEdges"/>
<text x="1585.7" y="543.3" font-size="9.8" fill="#fff" stroke="#fff" stroke-width="0.18" textLength="32" lengthAdjust="spacingAndGlyphs" >1.16003</text>
<g shape-rendering="crispEdges">
<line x1="4" y1="584.5" x2="1579" y2="584.5" stroke="#c0c0c0" stroke-width="1" stroke-dasharray="3,3"/>
<line x1="4" y1="621.5" x2="1579" y2="621.5" stroke="#c0c0c0" stroke-width="1" stroke-dasharray="3,3"/>
<polyline points="3.2,607.1 10.5,597.1 18.8,593.8 27.1,592.8 35.5,598.8 43.8,598.8 52.1,604.8 60.5,600.5 68.7,599.5 77.1,598.8 83.5,598.8 92.0,594.8 100.5,594.8 108.5,598.8 115.5,597.8 123.5,597.8 132.0,602.8 140.5,597.1 148.5,594.1 157.0,593.8 163.5,591.1 171.9,589.8 180.5,588.8 188.5,583.8 196.9,580.5 204.2,576.5 211.9,579.5 220.2,580.5 228.5,580.5 236.9,584.8 244.5,588.8 251.8,585.5 260.8,589.5 268.5,588.1 276.8,587.1 285.1,584.8 293.5,581.5 300.1,579.5 308.5,580.5 316.1,580.8 323.5,585.5 332.5,593.1 340.0,591.8 348.4,591.8 356.5,591.8 365.0,588.1 372.5,585.5 380.0,580.5 387.3,591.5 395.5,595.1 404.0,589.8 412.3,589.5 419.3,588.8 428.3,592.8 436.5,594.5 444.9,600.5 452.5,607.8 459.9,606.8 469.2,606.8 476.5,608.8 484.9,613.8 492.5,615.8 499.8,615.8 508.2,606.5 515.8,610.1 523.8,603.8 531.5,601.1 540.5,602.5 547.8,607.1 555.5,602.1 563.8,609.7 572.1,606.1 580.5,602.8 588.1,604.8 596.5,609.5 603.7,613.7 612.1,616.1 619.5,618.7 627.7,613.1 635.4,609.7 643.7,609.5 652.0,603.8 660.3,599.5 668.5,599.5 676.3,601.5 684.3,601.8 692.0,599.5 699.3,601.5 707.5,612.1 715.3,607.8 723.5,600.8 731.2,602.1 739.5,599.8 747.5,596.8 755.9,602.1 764.2,592.8 771.9,601.1 779.5,606.1 787.8,608.7 795.2,607.8 803.5,606.5 811.8,609.5 820.1,618.7 827.5,617.7 835.8,622.1 843.5,617.7 851.7,616.5 860.1,609.7 867.7,612.1 875.0,609.7 883.4,613.1 891.7,614.7 900.0,613.7 907.7,610.7 916.0,612.1 924.0,611.7 932.3,608.7 940.0,614.7 948.3,618.1 955.9,622.1 963.9,618.7 972.2,618.4 979.9,619.7 988.2,624.1 995.9,621.1 1003.9,617.1 1011.5,616.1 1019.9,617.1 1028.2,609.5 1036.5,604.5 1044.8,599.8 1053.1,598.8 1059.8,599.8 1068.1,598.8 1076.5,597.8 1084.5,593.8 1092.0,590.5 1099.7,593.1 1107.0,591.1 1115.3,590.5 1123.7,586.1 1131.0,584.5 1139.3,586.1 1148.0,591.1 1156.3,586.5 1163.5,583.8 1171.9,585.5 1180.3,587.1 1187.9,584.8 1195.9,584.1 1203.5,597.8 1211.9,600.1 1220.2,594.8 1227.9,601.8 1235.2,603.1 1243.5,603.1" fill="none" stroke="#1e90ff" stroke-width="1" />
<rect x="3" y="706" width="1" height="10" fill="#c0c0c0"/>
<rect x="11" y="706" width="1" height="5" fill="#c0c0c0"/>
<rect x="27" y="701" width="1" height="5" fill="#c0c0c0"/>
<rect x="35" y="699" width="1" height="7" fill="#c0c0c0"/>
<rect x="43" y="698" width="1" height="8" fill="#c0c0c0"/>
<rect x="51" y="700" width="1" height="6" fill="#c0c0c0"/>
<rect x="59" y="700" width="1" height="6" fill="#c0c0c0"/>
<rect x="67" y="699" width="1" height="7" fill="#c0c0c0"/>
<rect x="75" y="698" width="1" height="8" fill="#c0c0c0"/>
<rect x="83" y="697" width="1" height="9" fill="#c0c0c0"/>
<rect x="91" y="696" width="1" height="10" fill="#c0c0c0"/>
<rect x="99" y="693" width="1" height="13" fill="#c0c0c0"/>
<rect x="107" y="693" width="1" height="13" fill="#c0c0c0"/>
<rect x="115" y="693" width="1" height="13" fill="#c0c0c0"/>
<rect x="123" y="693" width="1" height="13" fill="#c0c0c0"/>
<rect x="131" y="694" width="1" height="12" fill="#c0c0c0"/>
<rect x="139" y="693" width="1" height="13" fill="#c0c0c0"/>
<rect x="147" y="692" width="1" height="14" fill="#c0c0c0"/>
<rect x="155" y="692" width="1" height="14" fill="#c0c0c0"/>
<rect x="163" y="688" width="1" height="18" fill="#c0c0c0"/>
<rect x="171" y="686" width="1" height="20" fill="#c0c0c0"/>
<rect x="179" y="684" width="1" height="22" fill="#c0c0c0"/>
<rect x="187" y="679" width="1" height="27" fill="#c0c0c0"/>
<rect x="195" y="674" width="1" height="32" fill="#c0c0c0"/>
<rect x="203" y="667" width="1" height="39" fill="#c0c0c0"/>
<rect x="211" y="663" width="1" height="43" fill="#c0c0c0"/>
<rect x="219" y="660" width="1" height="46" fill="#c0c0c0"/>
<rect x="227" y="659" width="1" height="47" fill="#c0c0c0"/>
<rect x="235" y="659" width="1" height="47" fill="#c0c0c0"/>
<rect x="243" y="661" width="1" height="45" fill="#c0c0c0"/>
<rect x="251" y="661" width="1" height="45" fill="#c0c0c0"/>
<rect x="259" y="662" width="1" height="44" fill="#c0c0c0"/>
<rect x="267" y="664" width="1" height="42" fill="#c0c0c0"/>
<rect x="275" y="665" width="1" height="41" fill="#c0c0c0"/>
<rect x="283" y="665" width="1" height="41" fill="#c0c0c0"/>
<rect x="291" y="664" width="1" height="42" fill="#c0c0c0"/>
<rect x="299" y="662" width="1" height="44" fill="#c0c0c0"/>
<rect x="307" y="660" width="1" height="46" fill="#c0c0c0"/>
<rect x="315" y="660" width="1" height="46" fill="#c0c0c0"/>
<rect x="323" y="662" width="1" height="44" fill="#c0c0c0"/>
<rect x="331" y="663" width="1" height="43" fill="#c0c0c0"/>
<rect x="339" y="667" width="1" height="39" fill="#c0c0c0"/>
<rect x="347" y="669" width="1" height="37" fill="#c0c0c0"/>
<rect x="355" y="672" width="1" height="34" fill="#c0c0c0"/>
<rect x="363" y="672" width="1" height="34" fill="#c0c0c0"/>
<rect x="371" y="671" width="1" height="35" fill="#c0c0c0"/>
<rect x="379" y="670" width="1" height="36" fill="#c0c0c0"/>
<rect x="387" y="672" width="1" height="34" fill="#c0c0c0"/>
<rect x="395" y="674" width="1" height="32" fill="#c0c0c0"/>
<rect x="403" y="674" width="1" height="32" fill="#c0c0c0"/>
<rect x="411" y="674" width="1" height="32" fill="#c0c0c0"/>
<rect x="419" y="674" width="1" height="32" fill="#c0c0c0"/>
<rect x="427" y="674" width="1" height="32" fill="#c0c0c0"/>
<rect x="435" y="677" width="1" height="29" fill="#c0c0c0"/>
<rect x="443" y="680" width="1" height="26" fill="#c0c0c0"/>
<rect x="451" y="686" width="1" height="20" fill="#c0c0c0"/>
<rect x="459" y="690" width="1" height="16" fill="#c0c0c0"/>
<rect x="467" y="694" width="1" height="12" fill="#c0c0c0"/>
<rect x="475" y="698" width="1" height="8" fill="#c0c0c0"/>
<rect x="483" y="703" width="1" height="3" fill="#c0c0c0"/>
<rect x="499" y="706" width="1" height="4" fill="#c0c0c0"/>
<rect x="507" y="706" width="1" height="4" fill="#c0c0c0"/>
<rect x="515" y="706" width="1" height="6" fill="#c0c0c0"/>
<rect x="523" y="706" width="1" height="5" fill="#c0c0c0"/>
<rect x="531" y="706" width="1" height="3" fill="#c0c0c0"/>
<rect x="539" y="706" width="1" height="2" fill="#c0c0c0"/>
<rect x="547" y="706" width="1" height="2" fill="#c0c0c0"/>
<rect x="555" y="706" width="1" height="3" fill="#c0c0c0"/>
<rect x="563" y="706" width="1" height="4" fill="#c0c0c0"/>
<rect x="571" y="706" width="1" height="4" fill="#c0c0c0"/>
<rect x="579" y="706" width="1" height="4" fill="#c0c0c0"/>
<rect x="587" y="706" width="1" height="4" fill="#c0c0c0"/>
<rect x="595" y="706" width="1" height="5" fill="#c0c0c0"/>
<rect x="603" y="706" width="1" height="10" fill="#c0c0c0"/>
<rect x="611" y="706" width="1" height="14" fill="#c0c0c0"/>
<rect x="619" y="706" width="1" height="18" fill="#c0c0c0"/>
<rect x="627" y="706" width="1" height="19" fill="#c0c0c0"/>
<rect x="635" y="706" width="1" height="18" fill="#c0c0c0"/>
<rect x="643" y="706" width="1" height="18" fill="#c0c0c0"/>
<rect x="651" y="706" width="1" height="14" fill="#c0c0c0"/>
<rect x="659" y="706" width="1" height="10" fill="#c0c0c0"/>
<rect x="667" y="706" width="1" height="7" fill="#c0c0c0"/>
<rect x="675" y="706" width="1" height="5" fill="#c0c0c0"/>
<rect x="683" y="706" width="1" height="4" fill="#c0c0c0"/>
<rect x="691" y="706" width="1" height="2" fill="#c0c0c0"/>
<rect x="699" y="706" width="1" height="1" fill="#c0c0c0"/>
<rect x="707" y="706" width="1" height="4" fill="#c0c0c0"/>
<rect x="715" y="706" width="1" height="5" fill="#c0c0c0"/>
<rect x="723" y="706" width="1" height="4" fill="#c0c0c0"/>
<rect x="731" y="706" width="1" height="2" fill="#c0c0c0"/>
<rect x="739" y="706" width="1" height="1" fill="#c0c0c0"/>
<rect x="747" y="705" width="1" height="1" fill="#c0c0c0"/>
<rect x="755" y="704" width="1" height="2" fill="#c0c0c0"/>
<rect x="763" y="699" width="1" height="7" fill="#c0c0c0"/>
<rect x="771" y="700" width="1" height="6" fill="#c0c0c0"/>
<rect x="779" y="701" width="1" height="5" fill="#c0c0c0"/>
<rect x="787" y="704" width="1" height="2" fill="#c0c0c0"/>
<rect x="795" y="706" width="1" height="1" fill="#c0c0c0"/>
<rect x="803" y="706" width="1" height="2" fill="#c0c0c0"/>
<rect x="811" y="706" width="1" height="4" fill="#c0c0c0"/>
<rect x="819" y="706" width="1" height="11" fill="#c0c0c0"/>
<rect x="827" y="706" width="1" height="17" fill="#c0c0c0"/>
<rect x="835" y="706" width="1" height="23" fill="#c0c0c0"/>
<rect x="843" y="706" width="1" height="27" fill="#c0c0c0"/>
<rect x="851" y="706" width="1" height="29" fill="#c0c0c0"/>
<rect x="859" y="706" width="1" height="28" fill="#c0c0c0"/>
<rect x="867" y="706" width="1" height="27" fill="#c0c0c0"/>
<rect x="875" y="706" width="1" height="25" fill="#c0c0c0"/>
<rect x="883" y="706" width="1" height="25" fill="#c0c0c0"/>
<rect x="891" y="706" width="1" height="26" fill="#c0c0c0"/>
<rect x="899" y="706" width="1" height="27" fill="#c0c0c0"/>
<rect x="907" y="706" width="1" height="25" fill="#c0c0c0"/>
<rect x="915" y="706" width="1" height="24" fill="#c0c0c0"/>
<rect x="923" y="706" width="1" height="24" fill="#c0c0c0"/>
<rect x="931" y="706" width="1" height="23" fill="#c0c0c0"/>
<rect x="939" y="706" width="1" height="23" fill="#c0c0c0"/>
<rect x="947" y="706" width="1" height="26" fill="#c0c0c0"/>
<rect x="955" y="706" width="1" height="29" fill="#c0c0c0"/>
<rect x="963" y="706" width="1" height="30" fill="#c0c0c0"/>
<rect x="971" y="706" width="1" height="30" fill="#c0c0c0"/>
<rect x="979" y="706" width="1" height="32" fill="#c0c0c0"/>
<rect x="987" y="706" width="1" height="35" fill="#c0c0c0"/>
<rect x="995" y="706" width="1" height="36" fill="#c0c0c0"/>
<rect x="1003" y="706" width="1" height="35" fill="#c0c0c0"/>
<rect x="1011" y="706" width="1" height="34" fill="#c0c0c0"/>
<rect x="1019" y="706" width="1" height="33" fill="#c0c0c0"/>
<rect x="1027" y="706" width="1" height="32" fill="#c0c0c0"/>
<rect x="1035" y="706" width="1" height="26" fill="#c0c0c0"/>
<rect x="1043" y="706" width="1" height="21" fill="#c0c0c0"/>
<rect x="1051" y="706" width="1" height="15" fill="#c0c0c0"/>
<rect x="1059" y="706" width="1" height="11" fill="#c0c0c0"/>
<rect x="1067" y="706" width="1" height="7" fill="#c0c0c0"/>
<rect x="1075" y="706" width="1" height="4" fill="#c0c0c0"/>
<rect x="1083" y="706" width="1" height="1" fill="#c0c0c0"/>
<rect x="1091" y="705" width="1" height="1" fill="#c0c0c0"/>
<rect x="1099" y="701" width="1" height="5" fill="#c0c0c0"/>
<rect x="1107" y="697" width="1" height="9" fill="#c0c0c0"/>
<rect x="1115" y="695" width="1" height="11" fill="#c0c0c0"/>
<rect x="1123" y="690" width="1" height="16" fill="#c0c0c0"/>
<rect x="1131" y="688" width="1" height="18" fill="#c0c0c0"/>
<rect x="1139" y="686" width="1" height="20" fill="#c0c0c0"/>
<rect x="1147" y="685" width="1" height="21" fill="#c0c0c0"/>
<rect x="1155" y="682" width="1" height="24" fill="#c0c0c0"/>
<rect x="1163" y="680" width="1" height="26" fill="#c0c0c0"/>
<rect x="1171" y="679" width="1" height="27" fill="#c0c0c0"/>
<rect x="1179" y="678" width="1" height="28" fill="#c0c0c0"/>
<rect x="1187" y="676" width="1" height="30" fill="#c0c0c0"/>
<rect x="1195" y="676" width="1" height="30" fill="#c0c0c0"/>
<rect x="1203" y="678" width="1" height="28" fill="#c0c0c0"/>
<rect x="1211" y="681" width="1" height="25" fill="#c0c0c0"/>
<rect x="1219" y="682" width="1" height="24" fill="#c0c0c0"/>
<rect x="1227" y="686" width="1" height="20" fill="#c0c0c0"/>
<rect x="1235" y="689" width="1" height="17" fill="#c0c0c0"/>
<rect x="1243" y="692" width="1" height="14" fill="#c0c0c0"/>
<polyline points="3.2,708.5 11.5,710.3 19.5,711.3 27.5,711.3 35.5,710.3 43.5,709.3 51.5,707.9 59.5,705.9 67.5,703.5 75.5,701.9 83.5,699.9 91.5,698.5 99.5,697.5 107.5,696.5 115.5,696.0 123.5,695.5 131.5,695.0 139.5,694.3 147.5,693.5 155.5,692.5 163.5,691.5 171.5,691.0 179.5,689.3 187.5,688.3 195.5,687.0 203.5,682.5 211.5,679.3 219.5,676.0 227.5,672.0 235.5,669.8 243.5,666.5 251.5,664.5 259.5,663.3 267.5,662.0 275.5,662.0 283.5,662.0 291.5,662.0 299.5,662.5 307.5,662.5 315.5,662.5 323.5,662.5 331.5,662.5 339.5,663.0 347.5,663.5 355.5,663.5 363.5,664.5 371.5,665.3 379.5,667.0 387.5,669.3 395.5,669.5 403.5,671.3 411.5,672.0 419.5,672.5 427.5,672.5 435.5,673.0 443.5,674.3 451.5,675.3 459.5,677.5 467.5,681.0 475.5,682.0 483.5,685.3 491.5,689.3 499.5,693.0 507.5,697.0 515.5,701.0 523.5,704.3 531.5,706.3 539.5,707.5 547.5,709.3 555.5,710.5 571.5,710.9 587.5,710.9 603.5,710.9 611.5,712.9 619.5,714.5 627.5,715.9 635.5,717.9 643.5,719.3 651.5,719.9 659.5,720.9 667.5,720.9 675.5,720.9 683.5,719.5 691.5,717.5 699.5,715.9 707.5,715.3 715.5,713.5 723.5,711.9 731.5,710.9 739.5,709.9 747.5,708.5 755.5,707.5 763.5,706.5 771.5,705.5 779.5,705.3 787.5,704.9 795.5,703.9 803.5,703.5 811.5,704.5 819.5,706.3 827.5,707.5 835.5,710.9 843.5,714.2 851.5,718.5 859.5,723.5 867.5,726.2 875.5,728.5 883.5,731.9 891.5,732.9 899.5,733.9 907.5,735.2 915.5,734.2 923.5,733.5 931.5,732.9 939.5,732.9 947.5,731.9 955.5,733.5 963.5,733.5 971.5,734.5 979.5,735.2 987.5,736.2 995.5,737.5 1003.5,738.5 1011.5,739.5 1019.5,740.5 1027.5,740.9 1035.5,740.5 1043.5,738.9 1051.5,737.2 1059.5,734.7 1067.5,731.0 1075.5,728.2 1083.5,723.5 1091.5,719.3 1099.5,715.3 1107.5,710.9 1115.5,707.5 1123.5,704.5 1131.5,700.9 1139.5,697.0 1147.5,694.5 1155.5,691.3 1163.5,689.3 1171.5,687.0 1179.5,685.3 1187.5,682.5 1195.5,681.3 1203.5,679.5 1211.5,679.5 1219.5,679.5 1227.5,679.5 1235.5,680.3 1243.5,682.0" fill="none" stroke="#ff0000" stroke-width="1" stroke-dasharray="3,3"/>
<rect x="3" y="749" width="1" height="3" fill="#000"/>
<rect x="67" y="749" width="1" height="3" fill="#000"/>
<rect x="131" y="749" width="1" height="3" fill="#000"/>
<rect x="195" y="749" width="1" height="3" fill="#000"/>
<rect x="259" y="749" width="1" height="3" fill="#000"/>
<rect x="323" y="749" width="1" height="3" fill="#000"/>
<rect x="387" y="749" width="1" height="3" fill="#000"/>
<rect x="451" y="749" width="1" height="3" fill="#000"/>
<rect x="515" y="749" width="1" height="3" fill="#000"/>
<rect x="579" y="749" width="1" height="3" fill="#000"/>
<rect x="643" y="749" width="1" height="3" fill="#000"/>
<rect x="707" y="749" width="1" height="3" fill="#000"/>
<rect x="771" y="749" width="1" height="3" fill="#000"/>
<rect x="835" y="749" width="1" height="3" fill="#000"/>
<rect x="899" y="749" width="1" height="3" fill="#000"/>
<rect x="963" y="749" width="1" height="3" fill="#000"/>
<rect x="1027" y="749" width="1" height="3" fill="#000"/>
<rect x="1091" y="749" width="1" height="3" fill="#000"/>
<rect x="1155" y="749" width="1" height="3" fill="#000"/>
<rect x="1219" y="749" width="1" height="3" fill="#000"/>
</g>
<text x="2.6" y="760.8" font-size="9.8" fill="#000" stroke="#000" stroke-width="0.18" textLength="48.3" lengthAdjust="spacingAndGlyphs" >4 Nov 2020</text>
<text x="66.6" y="760.8" font-size="9.8" fill="#000" stroke="#000" stroke-width="0.18" textLength="53.3" lengthAdjust="spacingAndGlyphs" >13 Nov 2020</text>
<text x="130.6" y="760.8" font-size="9.8" fill="#000" stroke="#000" stroke-width="0.18" textLength="53.3" lengthAdjust="spacingAndGlyphs" >23 Nov 2020</text>
<text x="194.6" y="760.8" font-size="9.8" fill="#000" stroke="#000" stroke-width="0.18" textLength="45.6" lengthAdjust="spacingAndGlyphs" >2 Dec 2020</text>
<text x="258.6" y="760.8" font-size="9.8" fill="#000" stroke="#000" stroke-width="0.18" textLength="50.6" lengthAdjust="spacingAndGlyphs" >11 Dec 2020</text>
<text x="322.6" y="760.8" font-size="9.8" fill="#000" stroke="#000" stroke-width="0.18" textLength="50.9" lengthAdjust="spacingAndGlyphs" >21 Dec 2020</text>
<text x="386.6" y="760.8" font-size="9.8" fill="#000" stroke="#000" stroke-width="0.18" textLength="50.9" lengthAdjust="spacingAndGlyphs" >31 Dec 2020</text>
<text x="450.6" y="760.8" font-size="9.8" fill="#000" stroke="#000" stroke-width="0.18" textLength="48.3" lengthAdjust="spacingAndGlyphs" >11 Jan 2021</text>
<text x="514.6" y="760.8" font-size="9.8" fill="#000" stroke="#000" stroke-width="0.18" textLength="48.5" lengthAdjust="spacingAndGlyphs" >20 Jan 2021</text>
<text x="578.6" y="760.8" font-size="9.8" fill="#000" stroke="#000" stroke-width="0.18" textLength="48.9" lengthAdjust="spacingAndGlyphs" >29 Jan 2021</text>
<text x="642.6" y="760.8" font-size="9.8" fill="#000" stroke="#000" stroke-width="0.18" textLength="45.9" lengthAdjust="spacingAndGlyphs" >8 Feb 2021</text>
<text x="706.6" y="760.8" font-size="9.8" fill="#000" stroke="#000" stroke-width="0.18" textLength="50.6" lengthAdjust="spacingAndGlyphs" >17 Feb 2021</text>
<text x="770.6" y="760.8" font-size="9.8" fill="#000" stroke="#000" stroke-width="0.18" textLength="50.9" lengthAdjust="spacingAndGlyphs" >26 Feb 2021</text>
<text x="834.6" y="760.8" font-size="9.8" fill="#000" stroke="#000" stroke-width="0.18" textLength="45.6" lengthAdjust="spacingAndGlyphs" >8 Mar 2021</text>
<text x="898.6" y="760.8" font-size="9.8" fill="#000" stroke="#000" stroke-width="0.18" textLength="49.9" lengthAdjust="spacingAndGlyphs" >17 Mar 2021</text>
<text x="962.6" y="760.8" font-size="9.8" fill="#000" stroke="#000" stroke-width="0.18" textLength="50.3" lengthAdjust="spacingAndGlyphs" >26 Mar 2021</text>
<text x="1026.6" y="760.8" font-size="9.8" fill="#000" stroke="#000" stroke-width="0.18" textLength="44.3" lengthAdjust="spacingAndGlyphs" >5 Apr 2021</text>
<text x="1090.6" y="760.8" font-size="9.8" fill="#000" stroke="#000" stroke-width="0.18" textLength="49.8" lengthAdjust="spacingAndGlyphs" >14 Apr 2021</text>
<text x="1154.6" y="760.8" font-size="9.8" fill="#000" stroke="#000" stroke-width="0.18" textLength="49.8" lengthAdjust="spacingAndGlyphs" >23 Apr 2021</text>
<text x="1218.6" y="760.8" font-size="9.8" fill="#000" stroke="#000" stroke-width="0.18" textLength="48.8" lengthAdjust="spacingAndGlyphs" >3 May 2021</text>
<text x="18.5" y="36.6" font-size="9.8" fill="#000" stroke="#000" stroke-width="0.18" textLength="63.3" lengthAdjust="spacingAndGlyphs" >EURUSD,Daily</text>
<path d="M6 32 L13 32 L9.5 36 Z" fill="#000"/>
<text x="88.3" y="36.6" font-size="9.8" fill="#000" stroke="#000" stroke-width="0.18" textLength="32.4" lengthAdjust="spacingAndGlyphs" >1.20013</text>
<text x="124.5" y="36.6" font-size="9.8" fill="#000" stroke="#000" stroke-width="0.18" textLength="32.4" lengthAdjust="spacingAndGlyphs" >1.20091</text>
<text x="160.7" y="36.6" font-size="9.8" fill="#000" stroke="#000" stroke-width="0.18" textLength="32.4" lengthAdjust="spacingAndGlyphs" >1.19904</text>
<text x="196.6" y="36.6" font-size="9.8" fill="#000" stroke="#000" stroke-width="0.18" textLength="32.4" lengthAdjust="spacingAndGlyphs" >1.20068</text>
<text x="7.2" y="567" font-size="9.8" fill="#000" stroke="#000" stroke-width="0.18" textLength="67.5" lengthAdjust="spacingAndGlyphs" >RSI(14) 50.9823</text>
<text x="7.2" y="665" font-size="9.8" fill="#000" stroke="#000" stroke-width="0.18" textLength="147.5" lengthAdjust="spacingAndGlyphs" >MACD(12,26,9) 0.002682 0.004371</text>
<text x="42.5" y="12.9" font-size="9.8" fill="#404040" textLength="12.5" lengthAdjust="spacingAndGlyphs" >M1</text>
<text x="70.6" y="12.9" font-size="9.8" fill="#404040" textLength="12.6" lengthAdjust="spacingAndGlyphs" >M5</text>
<text x="96.5" y="12.9" font-size="9.8" fill="#404040" textLength="17.5" lengthAdjust="spacingAndGlyphs" >M15</text>
<text x="124.3" y="12.9" font-size="9.8" fill="#404040" textLength="18.1" lengthAdjust="spacingAndGlyphs" >M30</text>
<text x="156" y="12.9" font-size="9.8" fill="#404040" textLength="11" lengthAdjust="spacingAndGlyphs" >H1</text>
<text x="182.7" y="12.9" font-size="9.8" fill="#404040" textLength="12" lengthAdjust="spacingAndGlyphs" >H4</text>
<text x="211.4" y="12.9" font-size="9.8" fill="#404040" textLength="12" lengthAdjust="spacingAndGlyphs" >D1</text>
<text x="239" y="12.9" font-size="9.8" fill="#404040" textLength="14" lengthAdjust="spacingAndGlyphs" >W1</text>
<text x="265.8" y="12.9" font-size="9.8" fill="#404040" textLength="14.4" lengthAdjust="spacingAndGlyphs" >MN</text>
<g shape-rendering="crispEdges">
<rect x="0" y="769" width="1622" height="1" fill="#e8e8e8"/>
<rect x="0" y="770" width="1622" height="21" fill="#f0f0f0"/>
<rect x="0" y="791" width="1622" height="3" fill="#f0f0f0"/>
<rect x="0" y="794" width="1622" height="1" fill="#d4d4d4"/>
<rect x="0" y="795" width="1622" height="1" fill="#a0a0a0"/>
<rect x="0" y="771" width="1622" height="1" fill="#000"/>
<rect x="4" y="769" width="104" height="21" fill="#fff"/>
<rect x="4" y="771" width="1" height="19" fill="#000"/><rect x="107" y="771" width="1" height="19" fill="#000"/><rect x="4" y="789" width="104" height="1" fill="#000"/>
<rect x="108" y="773" width="1" height="18" fill="#a0a0a0"/><rect x="6" y="790" width="103" height="1" fill="#a0a0a0"/>
<rect x="208" y="774" width="1" height="14" fill="#606060"/>
<rect x="312" y="774" width="1" height="14" fill="#606060"/>
<rect x="416" y="774" width="1" height="14" fill="#606060"/>
<rect x="520" y="774" width="1" height="14" fill="#606060"/>
<rect x="624" y="774" width="1" height="14" fill="#606060"/>
<rect x="728" y="774" width="1" height="14" fill="#606060"/>
<rect x="820" y="774" width="1" height="14" fill="#606060"/>
<rect x="904" y="774" width="1" height="14" fill="#606060"/>
<rect x="984" y="774" width="1" height="14" fill="#606060"/>
<rect x="1064" y="774" width="1" height="14" fill="#606060"/>
<rect x="1144" y="774" width="1" height="14" fill="#606060"/>
<rect x="1220" y="774" width="1" height="14" fill="#606060"/>
<rect x="1292" y="774" width="1" height="14" fill="#606060"/>
<rect x="1376" y="774" width="1" height="14" fill="#606060"/>
<rect x="1472" y="774" width="1" height="14" fill="#606060"/>
<rect x="1572" y="774" width="1" height="14" fill="#606060"/>
</g>
<text x="16.4" y="786" font-size="12.5" fill="#000" textLength="79.4" lengthAdjust="spacingAndGlyphs" >EURUSD,Daily</text>
<text x="118.4" y="786" font-size="12.5" fill="#78788c" textLength="78.8" lengthAdjust="spacingAndGlyphs" >USDCHF,Daily</text>
<text x="219.7" y="786" font-size="12.5" fill="#78788c" textLength="81.3" lengthAdjust="spacingAndGlyphs" >AUDUSD,Daily</text>
<text x="323" y="786" font-size="12.5" fill="#78788c" textLength="80.8" lengthAdjust="spacingAndGlyphs" >USDCAD,Daily</text>
<text x="426" y="786" font-size="12.5" fill="#78788c" textLength="82.7" lengthAdjust="spacingAndGlyphs" >USDCNH,Daily</text>
<text x="532" y="786" font-size="12.5" fill="#78788c" textLength="79.6" lengthAdjust="spacingAndGlyphs" >EURUSD,Daily</text>
<text x="636" y="786" font-size="12.5" fill="#78788c" textLength="79.8" lengthAdjust="spacingAndGlyphs" >GBPUSD,Daily</text>
<text x="739" y="786" font-size="12.5" fill="#78788c" textLength="69" lengthAdjust="spacingAndGlyphs" >XAUUSD,H4</text>
<text x="832.3" y="786" font-size="12.5" fill="#78788c" textLength="58.9" lengthAdjust="spacingAndGlyphs" >HK50,M15</text>
<text x="915" y="786" font-size="12.5" fill="#78788c" textLength="56.8" lengthAdjust="spacingAndGlyphs" >UK100,H1</text>
<text x="995" y="786" font-size="12.5" fill="#78788c" textLength="56" lengthAdjust="spacingAndGlyphs" >UK100,H1</text>
<text x="1074" y="786" font-size="12.5" fill="#78788c" textLength="57.8" lengthAdjust="spacingAndGlyphs" >GER30,H1</text>
<text x="1154" y="786" font-size="12.5" fill="#78788c" textLength="54.6" lengthAdjust="spacingAndGlyphs" >FRA40,H1</text>
<text x="1230" y="786" font-size="12.5" fill="#78788c" textLength="50.5" lengthAdjust="spacingAndGlyphs" >USOil,H1</text>
<text x="1302" y="786" font-size="12.5" fill="#78788c" textLength="62" lengthAdjust="spacingAndGlyphs" >USDJPY,H1</text>
<text x="1386.7" y="786" font-size="12.5" fill="#78788c" textLength="73.3" lengthAdjust="spacingAndGlyphs" >DJ30,Weekly</text>
<text x="1482" y="786" font-size="12.5" fill="#78788c" textLength="78" lengthAdjust="spacingAndGlyphs" >CHINA300,H1</text>
<text x="1582" y="786" font-size="12.5" fill="#78788c" textLength="7.5" lengthAdjust="spacingAndGlyphs" >U</text>
<rect x="1592" y="772" width="30" height="19" fill="#f0f0f0"/>
<path d="M1599 776 L1599 784 L1595 780 Z" fill="#a0a0a0"/><path d="M1614 776 L1614 784 L1618 780 Z" fill="#000"/>
<text x="1583.5" y="565.2" font-size="9.8" fill="#000" stroke="#000" stroke-width="0.18" textLength="14.5" lengthAdjust="spacingAndGlyphs" >100</text>
<text x="1583.5" y="587.6" font-size="9.8" fill="#000" stroke="#000" stroke-width="0.18" textLength="8.5" lengthAdjust="spacingAndGlyphs" >70</text>
<text x="1583.5" y="624.6" font-size="9.8" fill="#000" stroke="#000" stroke-width="0.18" textLength="8.5" lengthAdjust="spacingAndGlyphs" >30</text>
<text x="1583.5" y="646.8" font-size="9.8" fill="#000" stroke="#000" stroke-width="0.18" textLength="4.2" lengthAdjust="spacingAndGlyphs" >0</text>
<text x="1582.8" y="663.1" font-size="9.8" fill="#000" stroke="#000" stroke-width="0.18" textLength="38" lengthAdjust="spacingAndGlyphs" >0.009478</text>
<text x="1582.8" y="709" font-size="9.8" fill="#000" stroke="#000" stroke-width="0.18" textLength="18.3" lengthAdjust="spacingAndGlyphs" >0.00</text>
<text x="1582.8" y="745" font-size="9.8" fill="#000" stroke="#000" stroke-width="0.18" textLength="42" lengthAdjust="spacingAndGlyphs" >-0.007778</text>
<g shape-rendering="crispEdges"><rect x="1580" y="705" width="2" height="1" fill="#000"/></g>
</svg></body></html>
